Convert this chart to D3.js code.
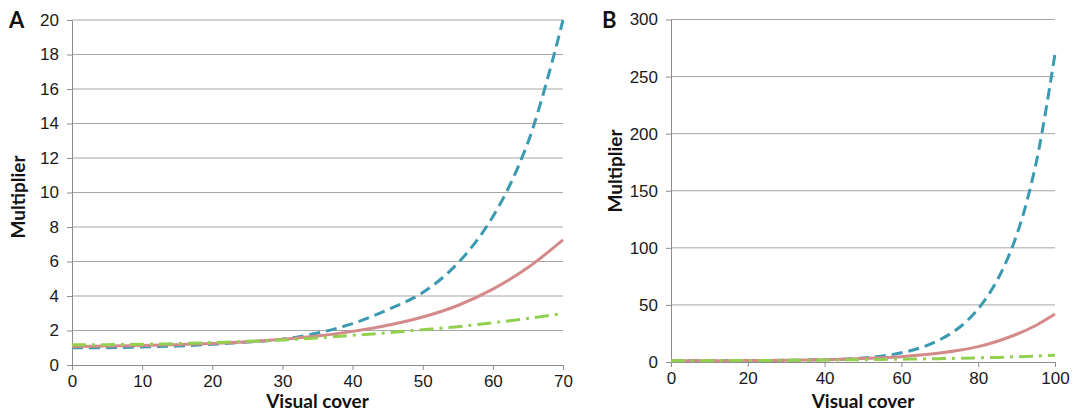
<!DOCTYPE html>
<html>
<head>
<meta charset="utf-8">
<script src="https://cdn.jsdelivr.net/npm/d3@7"></script>
<style>
  body { margin: 0; background: #fff; }
  svg { display: block; font-family: Lato, "Open Sans", sans-serif; }
  .tick text { font-size: 17px; fill: #1a1a1a; }
  .axis-title { font-size: 19px; font-weight: bold; fill: #111; }
  .panel-label { font-size: 22px; font-weight: bold; fill: #111; }
</style>
</head>
<body>
<svg id="chart" width="1080" height="413"></svg>
<script>
"use strict";

// panel A: visual cover 0..70
var coverA = [0, 5, 10, 15, 20, 25, 30, 35, 40, 45, 50, 55, 60, 65, 70];
var blueA = [1.0, 1.0, 1.05, 1.1, 1.2, 1.33, 1.5, 1.85, 2.4, 3.2, 4.2, 5.9, 8.6, 12.9, 20];
var pinkA = [1.07, 1.1, 1.13, 1.18, 1.25, 1.35, 1.49, 1.68, 1.95, 2.3, 2.78, 3.45, 4.4, 5.65, 7.25];
var greenA = [1.17, 1.18, 1.2, 1.24, 1.3, 1.37, 1.45, 1.57, 1.72, 1.87, 2.05, 2.22, 2.45, 2.7, 2.98];
var yTicksA = [0, 2, 4, 6, 8, 10, 12, 14, 16, 18, 20];
var xTicksA = [0, 10, 20, 30, 40, 50, 60, 70];

// panel B: visual cover 0..100
var coverB = [0, 5, 10, 15, 20, 25, 30, 35, 40, 45, 50, 55, 60, 65, 70, 75, 80, 85, 90, 95, 100];
var blueB = [1.0, 1.02, 1.05, 1.1, 1.2, 1.3, 1.45, 1.7, 2.0, 2.5, 3.4, 5.2, 8.1, 12.5, 19.5, 30, 46.5, 72, 111, 173, 270];
var pinkB = [1.05, 1.08, 1.12, 1.17, 1.25, 1.35, 1.5, 1.7, 2.0, 2.45, 3.0, 3.7, 4.7, 6.1, 7.9, 10.3, 13.5, 18.2, 24.3, 32, 42];
var greenB = [1.15, 1.17, 1.2, 1.25, 1.3, 1.37, 1.45, 1.57, 1.7, 1.87, 2.05, 2.25, 2.45, 2.7, 2.95, 3.25, 3.6, 4.05, 4.6, 5.2, 6.0];
var yTicksB = [0, 50, 100, 150, 200, 250, 300];
var xTicksB = [0, 20, 40, 60, 80, 100];

var svg = d3.select("#chart");

// стили линий
var lineStyles = [
  { key: "blue", color: "#3a9ab2", dash: "11,6" },
  { key: "pink", color: "#d48a8a", dash: null },
  { key: "green", color: "#92d050", dash: "14,6,3,6" }
];

function drawPanel(p) {
  var g = svg.append("g");

  var x = d3.scaleLinear().domain(p.xDomain).range([p.left, p.right]);
  var y = d3.scaleLinear().domain(p.yDomain).range([p.bottom, p.top]);

  // сетка
  g.append("g")
    .selectAll("line")
    .data(p.yTicks.slice(1))
    .enter()
    .append("line")
    .attr("x1", p.left)
    .attr("x2", p.right)
    .attr("y1", d => y(d))
    .attr("y2", d => y(d))
    .attr("stroke", "#a6a6a6")
    .attr("stroke-width", 1);

  // ось y
  var yAxis = g.append("g")
    .attr("transform", `translate(${p.left},0)`)
    .call(d3.axisLeft(y).tickValues(p.yTicks).tickSize(5).tickPadding(8).tickSizeOuter(0));

  // ось x
  var xAxis = g.append("g")
    .attr("transform", `translate(0,${p.bottom})`)
    .call(d3.axisBottom(x).tickValues(p.xTicks).tickSize(5).tickPadding(5).tickSizeOuter(0));

  [yAxis, xAxis].forEach(a => {
    a.select(".domain").attr("stroke", "#8c8c8c");
    a.selectAll(".tick line").attr("stroke", "#8c8c8c");
    a.selectAll(".tick text").attr("font-family", null).attr("font-size", null);
  });

  // линии
  var line = d3.line()
    .x(d => x(d[0]))
    .y(d => y(d[1]))
    .curve(d3.curveCatmullRom.alpha(0.5));

  lineStyles.forEach(s => {
    var vals = p.series[s.key];
    g.append("path")
      .datum(p.cover.map((c, i) => [c, vals[i]]))
      .attr("fill", "none")
      .attr("stroke", s.color)
      .attr("stroke-width", 3)
      .attr("stroke-dasharray", s.dash)
      .attr("d", line);
  });

  // подписи
  g.append("text")
    .attr("class", "axis-title")
    .attr("x", (p.left + p.right) / 2)
    .attr("y", 408)
    .attr("text-anchor", "middle")
    .text("Visual cover");

  g.append("text")
    .attr("class", "axis-title")
    .attr("transform", `translate(${p.yTitleX},${p.yTitleY}) rotate(-90)`)
    .attr("text-anchor", "middle")
    .attr("dominant-baseline", "central")
    .text("Multiplier");

  g.append("text")
    .attr("class", "panel-label")
    .attr("x", p.labelX)
    .attr("y", 28)
    .text(p.label);
}

drawPanel({
  label: "A", labelX: 9,
  left: 72, right: 563, top: 20, bottom: 365,
  xDomain: [0, 70], yDomain: [0, 20],
  xTicks: xTicksA, yTicks: yTicksA,
  cover: coverA,
  series: { blue: blueA, pink: pinkA, green: greenA },
  yTitleX: 17, yTitleY: 197
});

drawPanel({
  label: "B", labelX: 602,
  left: 671, right: 1055, top: 19.5, bottom: 362,
  xDomain: [0, 100], yDomain: [0, 300],
  xTicks: xTicksB, yTicks: yTicksB,
  cover: coverB,
  series: { blue: blueB, pink: pinkB, green: greenB },
  yTitleX: 614, yTitleY: 171
});
</script>
</body>
</html>
